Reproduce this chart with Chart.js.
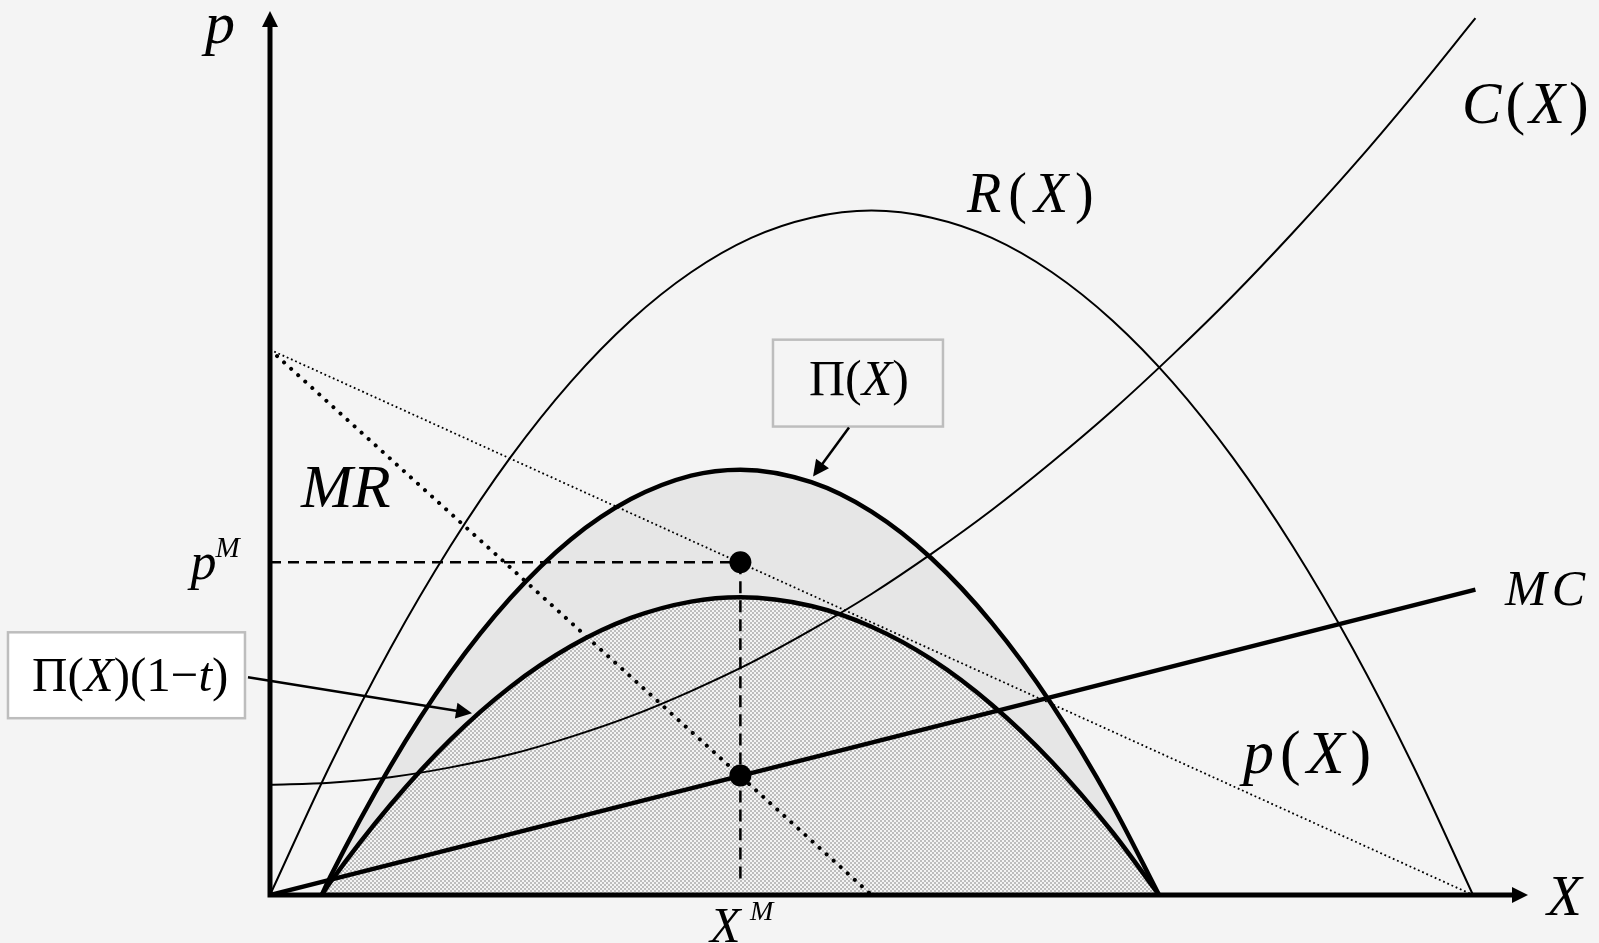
<!DOCTYPE html>
<html>
<head>
<meta charset="utf-8">
<script src="https://cdn.jsdelivr.net/npm/chart.js@4"></script>
<style>
  html, body { margin: 0; padding: 0; background: #f4f4f4; }
  #wrap { width: 1599px; height: 943px; position: relative; }
</style>
</head>
<body>
<div id="wrap"><canvas id="monopolyChart"></canvas></div>
<script>
// axis ranges (data units)
const X_MAX = 10.457;
const P_MAX = 16.21;

// demand p(X) and marginal revenue
const demandX = [0, 10];
const demandP = [10, 0];
const mrX = [0, 5];
const mrP = [10, 0];

// marginal cost
const mcX = [0, 10.02];
const mcP = [0, 5.6];

// revenue R(X)
const revX = [0, 0.5, 1, 1.5, 2, 2.5, 3, 3.5, 4, 4.5, 5, 5.5, 6, 6.5, 7, 7.5, 8, 8.5, 9, 9.5, 10];
const revP = [0, 2.38, 4.52, 6.40, 8.03, 9.41, 10.54, 11.42, 12.05, 12.42, 12.55, 12.42, 12.05, 11.42, 10.54, 9.41, 8.03, 6.40, 4.52, 2.38, 0];

// cost C(X)
const costX = [0, 0.5, 1, 1.5, 2, 2.5, 3, 3.5, 4, 4.5, 5, 5.5, 6, 6.5, 7, 7.5, 8, 8.5, 9, 9.5, 10.02];
const costP = [2.02, 2.06, 2.16, 2.34, 2.58, 2.90, 3.28, 3.74, 4.26, 4.86, 5.52, 6.26, 7.06, 7.94, 8.88, 9.90, 10.98, 12.14, 13.36, 14.66, 16.08];

// profit before and after tax
const profitX = [0.43, 0.5, 1, 1.5, 2, 2.5, 3, 3.5, 3.91, 4.5, 5, 5.5, 6, 6.5, 7, 7.39];
const profitP = [0, 0.33, 2.36, 4.07, 5.45, 6.52, 7.26, 7.69, 7.80, 7.57, 7.03, 6.17, 4.99, 3.49, 1.66, 0];
const profitTaxP = [0, 0.23, 1.65, 2.85, 3.82, 4.56, 5.08, 5.38, 5.46, 5.30, 4.92, 4.32, 3.49, 2.44, 1.16, 0];

// monopoly optimum
const xM = 3.91;
const pM = 6.1;
const mcAtXM = 2.19;

function pts(xs, ys) {
    return xs.map((x, i) => ({ x: x, y: ys[i] }));
}

// checker pattern for the after-tax profit area
function checker() {
    const c = document.createElement('canvas');
    c.width = 4; c.height = 4;
    const g = c.getContext('2d');
    g.fillStyle = '#f4f4f4';
    g.fillRect(0, 0, 4, 4);
    g.fillStyle = '#bdbdbd';
    g.fillRect(0, 0, 2, 2);
    g.fillRect(2, 2, 2, 2);
    return g.createPattern(c, 'repeat');
}

const SERIF = '"Liberation Serif", "Times New Roman", serif';

function drawMath(ctx, parts, x, y, size, gap) {
    let cx = x;
    parts.forEach(([txt, it]) => {
        ctx.font = (it ? 'italic ' : '') + size + 'px ' + SERIF;
        ctx.fillText(txt, cx, y);
        cx += ctx.measureText(txt).width + gap;
    });
}

function arrowLine(ctx, x1, y1, x2, y2, w, head) {
    const a = Math.atan2(y2 - y1, x2 - x1);
    ctx.lineWidth = w;
    ctx.beginPath();
    ctx.moveTo(x1, y1);
    ctx.lineTo(x2 - Math.cos(a) * head * 0.8, y2 - Math.sin(a) * head * 0.8);
    ctx.stroke();
    ctx.beginPath();
    ctx.moveTo(x2, y2);
    ctx.lineTo(x2 - head * Math.cos(a) + head * 0.5 * Math.sin(a), y2 - head * Math.sin(a) - head * 0.5 * Math.cos(a));
    ctx.lineTo(x2 - head * Math.cos(a) - head * 0.5 * Math.sin(a), y2 - head * Math.sin(a) + head * 0.5 * Math.cos(a));
    ctx.closePath();
    ctx.fill();
}

// axes with arrowheads
const axesPlugin = {
    id: 'axesArrows',
    afterDatasetsDraw(chart) {
        const ctx = chart.ctx;
        const sx = chart.scales.x, sy = chart.scales.y;
        const x0 = sx.getPixelForValue(0), y0 = sy.getPixelForValue(0);
        const xEnd = sx.getPixelForValue(X_MAX), yEnd = sy.getPixelForValue(P_MAX);
        ctx.save();
        ctx.strokeStyle = '#000';
        ctx.fillStyle = '#000';
        ctx.lineWidth = 5;
        ctx.beginPath();
        ctx.moveTo(x0, y0 + 2.5);
        ctx.lineTo(x0, yEnd + 12);
        ctx.moveTo(x0 - 2.5, y0);
        ctx.lineTo(xEnd - 12, y0);
        ctx.stroke();
        ctx.beginPath();
        ctx.moveTo(x0, yEnd);
        ctx.lineTo(x0 - 8, yEnd + 16);
        ctx.lineTo(x0 + 8, yEnd + 16);
        ctx.closePath();
        ctx.fill();
        ctx.beginPath();
        ctx.moveTo(xEnd, y0);
        ctx.lineTo(xEnd - 16, y0 - 8);
        ctx.lineTo(xEnd - 16, y0 + 8);
        ctx.closePath();
        ctx.fill();
        ctx.restore();
    }
};

// curve labels and boxed annotations
const labelPlugin = {
    id: 'labels',
    afterDraw(chart) {
        const ctx = chart.ctx;
        const sx = chart.scales.x, sy = chart.scales.y;
        const X = v => sx.getPixelForValue(v);
        const Y = v => sy.getPixelForValue(v);
        ctx.save();
        ctx.fillStyle = '#000';
        ctx.strokeStyle = '#000';
        ctx.textBaseline = 'alphabetic';
        ctx.textAlign = 'left';

        drawMath(ctx, [['p', true]], X(-0.54), Y(15.62), 60, 0);
        drawMath(ctx, [['p', true]], X(-0.66), Y(5.79), 52, 0);
        drawMath(ctx, [['M', true]], X(-0.66) + 25, Y(5.79) - 22, 29, 0);
        drawMath(ctx, [['X', true]], X(3.658), Y(-0.861), 50, 0);
        drawMath(ctx, [['M', true]], X(3.658) + 40, Y(-0.861) - 22, 28, 0);
        drawMath(ctx, [['M', true], ['R', true]], X(0.258), Y(7.106), 62, 0);
        drawMath(ctx, [['R', true], ['(', false], ['X', true], [')', false]], X(5.794), Y(12.53), 56, 7);
        drawMath(ctx, [['C', true], ['(', false], ['X', true], [')', false]], X(9.909), Y(14.158), 59, 4);
        drawMath(ctx, [['M', true], ['C', true]], X(10.266), Y(5.311), 50, 5);
        drawMath(ctx, [['p', true], ['(', false], ['X', true], [')', false]], X(8.088), Y(2.234), 62, 6);
        drawMath(ctx, [['X', true]], X(10.615), Y(-0.366), 57, 0);

        // Π(X) box
        ctx.fillStyle = '#f4f4f4';
        ctx.fillRect(X(4.181), Y(10.183), X(5.594) - X(4.181), Y(8.59) - Y(10.183));
        ctx.strokeStyle = '#bdbdbd';
        ctx.lineWidth = 2.5;
        ctx.strokeRect(X(4.181), Y(10.183), X(5.594) - X(4.181), Y(8.59) - Y(10.183));
        ctx.fillStyle = '#000';
        drawMath(ctx, [['\u03A0', false], ['(', false], ['X', true], [')', false]], X(4.48), Y(9.176), 50, 0);
        ctx.strokeStyle = '#000';
        arrowLine(ctx, X(4.813), Y(8.572), X(4.514), Y(7.674), 2.5, 16);

        // Π(X)(1−t) box
        ctx.fillStyle = '#ffffff';
        ctx.fillRect(X(-2.178), Y(4.817), X(-0.208) - X(-2.178), Y(3.242) - Y(4.817));
        ctx.strokeStyle = '#bdbdbd';
        ctx.lineWidth = 2.5;
        ctx.strokeRect(X(-2.178), Y(4.817), X(-0.208) - X(-2.178), Y(3.242) - Y(4.817));
        ctx.fillStyle = '#000';
        drawMath(ctx, [['\u03A0', false], ['(', false], ['X', true], [')', false], ['(1', false], ['\u2212', false], ['t', true], [')', false]], X(-1.978), Y(3.736), 49, 0);
        ctx.strokeStyle = '#000';
        arrowLine(ctx, X(-0.183), Y(3.993), X(1.679), Y(3.333), 2.5, 16);
        ctx.restore();
    }
};

const base = { pointRadius: 0, borderColor: '#000', fill: false, cubicInterpolationMode: 'monotone' };

new Chart(document.getElementById('monopolyChart'), {
    type: 'line',
    data: {
        datasets: [
            Object.assign({}, base, { label: 'optimum', data: [{ x: xM, y: pM }, { x: xM, y: mcAtXM }], showLine: false, pointRadius: 11, pointBackgroundColor: '#000', pointBorderWidth: 0, order: 0 }),
            Object.assign({}, base, { label: 'MC', data: pts(mcX, mcP), borderWidth: 4.5, order: 1 }),
            Object.assign({}, base, { label: 'pM', data: [{ x: 0, y: pM }, { x: xM, y: pM }], borderWidth: 2.5, borderDash: [11, 7], order: 2 }),
            Object.assign({}, base, { label: 'XM', data: [{ x: xM, y: pM }, { x: xM, y: 0.3 }], borderWidth: 2.5, borderDash: [12, 7], order: 2 }),
            Object.assign({}, base, { label: 'MR', data: pts(mrX, mrP), borderWidth: 4, borderDash: [0.01, 9.5], borderCapStyle: 'round', order: 3 }),
            Object.assign({}, base, { label: 'p(X)', data: pts(demandX, demandP), borderWidth: 1.8, borderDash: [1.8, 2.8], order: 3 }),
            Object.assign({}, base, { label: 'R(X)', data: pts(revX, revP), borderWidth: 2, order: 4 }),
            Object.assign({}, base, { label: 'C(X)', data: pts(costX, costP), borderWidth: 2, order: 4 }),
            Object.assign({}, base, { label: 'Pi(1-t)', data: pts(profitX, profitTaxP), borderWidth: 4.5, fill: 'origin', backgroundColor: checker(), order: 9 }),
            Object.assign({}, base, { label: 'Pi', data: pts(profitX, profitP), borderWidth: 4.5, fill: 'origin', backgroundColor: '#e6e6e6', order: 10 })
        ]
    },
    options: {
        responsive: true,
        maintainAspectRatio: false,
        animation: false,
        events: [],
        layout: { padding: { left: 270, right: 71, top: 10, bottom: 48 } },
        plugins: { legend: { display: false }, tooltip: { enabled: false } },
        scales: {
            x: { type: 'linear', min: 0, max: X_MAX, display: false },
            y: { type: 'linear', min: 0, max: P_MAX, display: false }
        }
    },
    plugins: [axesPlugin, labelPlugin]
});
</script>
</body>
</html>
